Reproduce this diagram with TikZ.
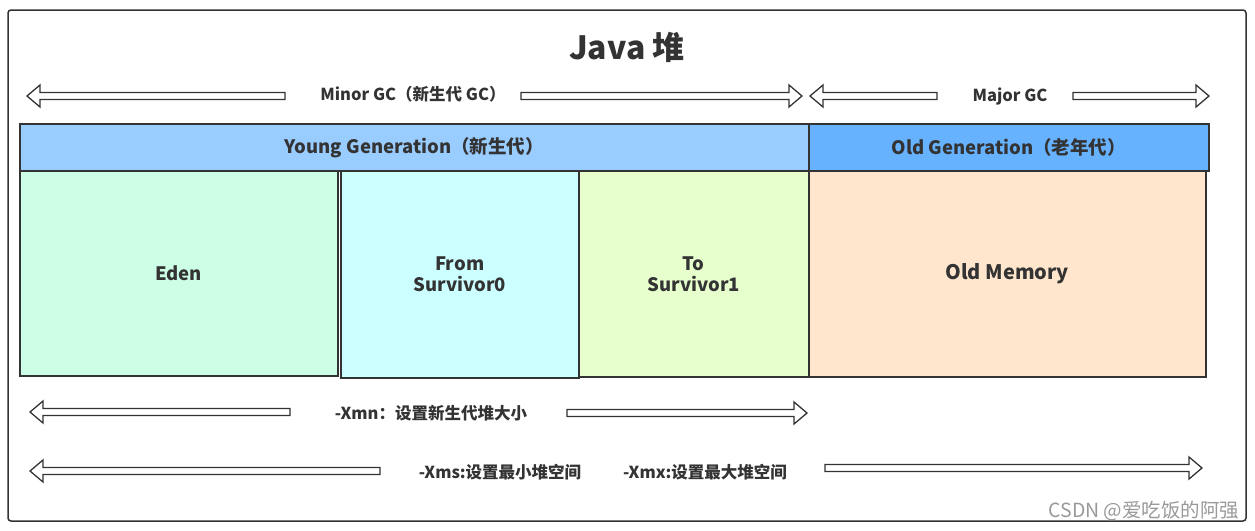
\documentclass[tikz,border=0pt]{standalone}
\usepackage{fontspec}
\setmainfont{Noto Sans CJK SC}
\definecolor{linegray}{HTML}{333333}
\definecolor{youngblue}{HTML}{99CCFF}
\definecolor{oldblue}{HTML}{66B2FF}
\definecolor{edenfill}{HTML}{CCFFE6}
\definecolor{fromfill}{HTML}{CCFFFF}
\definecolor{tofill}{HTML}{E6FFCC}
\definecolor{oldfill}{HTML}{FFE6CC}
\tikzset{
  region/.style={draw=linegray, line width=1.5pt, anchor=north west, inner sep=0pt,
    align=center, text=linegray, font=\fontsize{18.5}{21}\selectfont\bfseries},
  gclabel/.style={text=linegray, inner sep=0pt, font=\fontsize{16.5}{19}\selectfont\bfseries},
  fatarrow/.style={draw=linegray, line width=1.3pt, fill=white, line join=miter}
}
% #1 tail x, #2 tip x, #3 y
\newcommand{\fatarrowat}[3]{%
  \pgfmathsetmacro{\hd}{13*sign(#2-#1)}
  \draw[fatarrow] (#1,#3-3.5) -- ({#2-\hd},#3-3.5) -- ({#2-\hd},#3-11) -- (#2,#3)
    -- ({#2-\hd},#3+11) -- ({#2-\hd},#3+3.5) -- (#1,#3+3.5) -- cycle;}

\begin{document}
\begin{tikzpicture}[x=1pt,y=-1pt]
\useasboundingbox (0,0) rectangle (1255,530);
\draw [linegray, line width=1.5pt, rounded corners=3pt] (8,10) rectangle (1246,521);
\node[text=linegray, font=\fontsize{32}{36}\selectfont\bfseries] (title) at (627,47) {Java 堆};

\node[gclabel] (minor) at (413,94) {Minor GC（新生代 GC）};
\fatarrowat{285}{27}{96}
\fatarrowat{521}{802}{96}
\node[gclabel] (major) at (1010,96) {Major GC};
\fatarrowat{937}{810}{96}
\fatarrowat{1073}{1209}{96}

\node[region, fill=youngblue, minimum width=789, minimum height=47] (young) at (19,123) {Young Generation（新生代）};
\node[region, fill=oldblue, minimum width=400, minimum height=47] (old) at (808,123) {Old Generation（老年代）};
\node[region, fill=edenfill, minimum width=318, minimum height=205] (eden) at (19,170) {Eden};
\node[region, fill=fromfill, minimum width=238, minimum height=207] (from) at (340,170) {From\\Survivor0};
\node[region, fill=tofill, minimum width=230, minimum height=206] (to) at (578,170) {To\\Survivor1};
\node[region, fill=oldfill, minimum width=397, minimum height=206, font=\fontsize{20}{23}\selectfont\bfseries] (oldmem) at (808,170) {Old Memory};

\node[gclabel] (xmn) at (431,413) {-Xmn：设置新生代堆大小};
\fatarrowat{290}{30}{412}
\fatarrowat{567}{807}{413}
\node[gclabel] (xms) at (500,472) {-Xms:设置最小堆空间};
\fatarrowat{380}{30}{471}
\node[gclabel] (xmx) at (705,472) {-Xmx:设置最大堆空间};
\fatarrowat{825}{1202}{468}

\node[text=black!40, inner sep=0pt, font=\fontsize{19.5}{22}\selectfont] (mark) at (1144,511) {CSDN @爱吃饭的阿强};
\end{tikzpicture}
\end{document}
